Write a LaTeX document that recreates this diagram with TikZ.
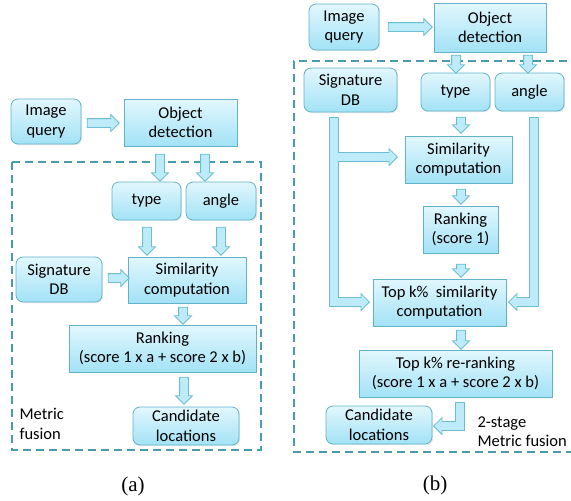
\documentclass[tikz,border=0pt]{standalone}
\usepackage{fontspec}
\setmainfont{Carlito}
\newfontfamily\capfont{Liberation Serif}
\usetikzlibrary{shapes.arrows,shadows}
\definecolor{boxline}{HTML}{62B3C9}
\definecolor{boxtop}{HTML}{E2F7FD}
\definecolor{boxbot}{HTML}{A2E2F6}
\definecolor{arrline}{HTML}{6CBDD2}
\definecolor{arrfill}{HTML}{BDEBF9}
\definecolor{frameline}{HTML}{4B9BAF}
\tikzset{
  box/.style={draw=boxline, line width=0.8pt, top color=boxtop, bottom color=boxbot,
    align=center, inner sep=1pt, font=\fontsize{16.5}{19.5}\selectfont,
    drop shadow={opacity=0.18, shadow xshift=1.2pt, shadow yshift=-1.2pt}},
  rbox/.style={box, rounded corners=7pt},
  barrow/.style={single arrow, draw=arrline, fill=arrfill, line width=0.8pt,
    single arrow head extend=4pt, inner xsep=0pt, inner ysep=4pt},
  arrhead/.style={barrow, minimum height=11pt, anchor=tip},
  busout/.style={draw=arrline, line width=9.6pt, shorten <=-0.8pt},
  busin/.style={draw=arrfill, line width=8pt},
  frame/.style={draw=frameline, line width=1.6pt, dash pattern=on 8pt off 5pt},
  note/.style={align=left, anchor=west, font=\fontsize{16.5}{19.5}\selectfont},
  caption/.style={font=\capfont\fontsize{21}{24}\selectfont}
}
\begin{document}
\begin{tikzpicture}[x=1pt,y=-1pt]
  \useasboundingbox (0,0) rectangle (571,501);
  % (a) single-stage fusion
  \draw[frame] (12,162) rectangle (261,450);
  \node[rbox, minimum width=70, minimum height=45] (qryA) at (46,121.5) {Image\\query};
  \node[box, minimum width=113, minimum height=47] (odA) at (180.5,122.5) {Object\\detection};
  \node[rbox, minimum width=69, minimum height=38] (typeA) at (146.5,201) {type};
  \node[rbox, minimum width=70, minimum height=38] (angA) at (221,201) {angle};
  \node[rbox, minimum width=86, minimum height=45] (sigA) at (59,279.5) {Signature\\DB};
  \node[box, minimum width=118, minimum height=46] (simA) at (187,280) {Similarity\\computation};
  \node[box, minimum width=187, minimum height=47] (rankA) at (162.5,348.5) {Ranking\\(score 1 x a + score 2 x b)};
  \node[rbox, minimum width=106, minimum height=38] (candA) at (186,426) {Candidate\\locations};
  \node[note] (fuseA) at (16,424) {Metric\\fusion};
  \node[caption] (capA) at (133,486) {(a)};
  \node[barrow, minimum height=32] (aA1) at (101,123) {};
  \node[barrow, rotate=-90, minimum height=27] (aA2) at (160,165.5) {};
  \node[barrow, rotate=-90, minimum height=27] (aA3) at (205,165.5) {};
  \node[barrow, rotate=-90, minimum height=28] (aA4) at (147,239) {};
  \node[barrow, rotate=-90, minimum height=28] (aA5) at (221,239) {};
  \node[barrow, minimum height=21] (aA6) at (116.5,278) {};
  \node[barrow, rotate=-90, minimum height=17] (aA7) at (183,313.5) {};
  \node[barrow, rotate=-90, minimum height=27] (aA8) at (184,388.5) {};
  % (b) two-stage fusion
  \draw[frame] (580,61) -- (294,61) -- (294,452) -- (580,452);
  \node[rbox, minimum width=70, minimum height=46] (qryB) at (344,27) {Image\\query};
  \node[box, minimum width=112, minimum height=49] (odB) at (490,27.5) {Object\\detection};
  \node[rbox, minimum width=69, minimum height=38] (typeB) at (455.5,92) {type};
  \node[rbox, minimum width=69, minimum height=38] (angB) at (529.5,92) {angle};
  \node[rbox, minimum width=93, minimum height=44] (sigB) at (350.5,90) {Signature\\DB};
  \node[box, minimum width=107, minimum height=47] (simB) at (458.5,159.5) {Similarity\\computation};
  \node[box, minimum width=75, minimum height=47] (rankB) at (460.5,229.5) {Ranking\\(score 1)};
  \node[box, minimum width=133, minimum height=47] (topB) at (439.5,302.5) {Top k\%\ \ similarity\\computation};
  \node[box, minimum width=193, minimum height=47] (rerankB) at (455.5,373.5) {Top k\% re-ranking\\(score 1 x a + score 2 x b)};
  \node[rbox, minimum width=106, minimum height=38] (candB) at (379,425) {Candidate\\locations};
  \node[note] (fuseB) at (474,431.5) {2-stage\\Metric fusion};
  \node[caption] (capB) at (435,485) {(b)};
  \node[barrow, minimum height=44] (aB1) at (408,27) {};
  \node[barrow, rotate=-90, minimum height=18] (aB2) at (456,62) {};
  \node[barrow, rotate=-90, minimum height=18] (aB3) at (528,62) {};
  \node[barrow, rotate=-90, minimum height=16] (aB4) at (461,123) {};
  \node[barrow, rotate=-90, minimum height=15] (aB5) at (461,194.5) {};
  \node[barrow, rotate=-90, minimum height=13] (aB6) at (461,268.5) {};
  \node[barrow, rotate=-90, minimum height=19] (aB7) at (461,337.5) {};
  % bent arrows: outline, heads, then fill
  \draw[busout] (334,118) -- (334,302) -- (363,302);
  \draw[busout] (334,157) -- (391,157);
  \draw[busout] (534,118) -- (534,302) -- (515,302);
  \draw[busout] (460,403) -- (460,426) -- (440,426);
  \node[arrhead] (hSig) at (370,302) {};
  \node[arrhead] (hSim) at (398,157) {};
  \node[arrhead, rotate=180] (hAng) at (508,302) {};
  \node[arrhead, rotate=180] (hCand) at (433,426) {};
  \draw[busin] (334,118) -- (334,302) -- (363,302);
  \draw[busin] (334,157) -- (391,157);
  \draw[busin] (534,118) -- (534,302) -- (515,302);
  \draw[busin] (460,403) -- (460,426) -- (440,426);
\end{tikzpicture}
\end{document}
